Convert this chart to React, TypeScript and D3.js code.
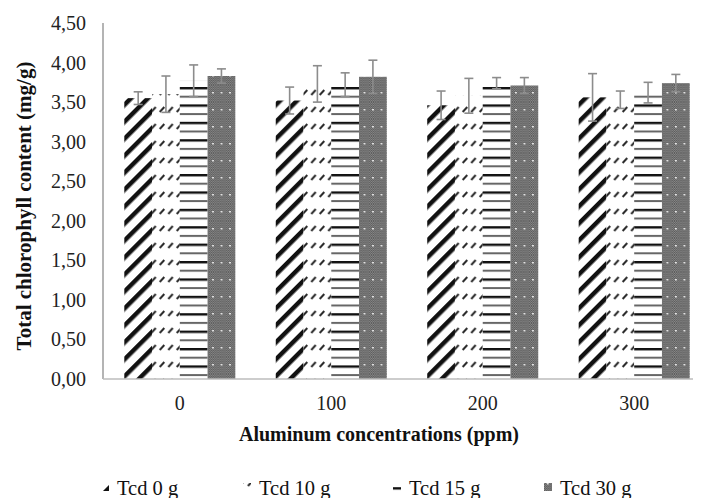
import React from "react";
import * as d3 from "d3";

const categories = ["0", "100", "200", "300"];
const seriesNames = ["Tcd 0 g", "Tcd 10 g", "Tcd 15 g", "Tcd 30 g"];
const tcd0 = [3.55, 3.52, 3.46, 3.56];
const tcd10 = [3.6, 3.73, 3.58, 3.53];
const tcd15 = [3.77, 3.72, 3.74, 3.62];
const tcd30 = [3.83, 3.82, 3.71, 3.74];
const err0 = [0.08, 0.17, 0.18, 0.3];
const err10 = [0.23, 0.23, 0.22, 0.11];
const err15 = [0.2, 0.15, 0.07, 0.13];
const err30 = [0.09, 0.21, 0.1, 0.11];
const yTicks = [0, 0.5, 1, 1.5, 2, 2.5, 3, 3.5, 4, 4.5];

const W = 705;
const H = 498;
const FONT = "'Liberation Serif', 'Times New Roman', serif";

export default function App() {
  const values = [tcd0, tcd10, tcd15, tcd30];
  const errors = [err0, err10, err15, err30];
  const patterns = ["p0", "p10", "p15", "p30"];

  const x0 = d3
    .scaleBand<string>()
    .domain(categories)
    .range([104, 710])
    .paddingInner(0.267)
    .paddingOuter(0.134);
  const x1 = d3
    .scaleBand<string>()
    .domain(seriesNames)
    .range([0, x0.bandwidth()])
    .padding(0);
  const y = d3.scaleLinear().domain([0, 4.5]).range([379, 23]);
  const fmt = (v: number) => d3.format(".2f")(v).replace(".", ",");

  const legendX = [101, 243, 393, 544];

  return (
    <svg
      width={W}
      height={H}
      style={{ position: "absolute", left: 0, top: 0, background: "#fff" }}
      fontFamily={FONT}
    >
      <defs>
        <pattern
          id="p0"
          patternUnits="userSpaceOnUse"
          width={12}
          height={12}
          patternTransform="rotate(45)"
        >
          <rect x={0} y={0} width={12} height={12} fill="#fff" />
          <rect x={0} y={0} width={4.5} height={12} fill="#111" />
        </pattern>
        <pattern id="p10" patternUnits="userSpaceOnUse" width={8.5} height={17}>
          <rect x={0} y={0} width={8.5} height={17} fill="#fff" />
          <line x1={1.5} y1={10} x2={6} y2={5} stroke="#2a2a2a" strokeWidth={1.9} />
        </pattern>
        <pattern id="p15" patternUnits="userSpaceOnUse" width={10} height={17.4}>
          <rect x={0} y={0} width={10} height={17.4} fill="#fff" />
          <rect x={0} y={0} width={10} height={2.4} fill="#111" />
          <rect x={0} y={8.7} width={10} height={2} fill="#666" />
        </pattern>
        <pattern id="chk" patternUnits="userSpaceOnUse" width={2} height={2}>
          <rect x={0} y={0} width={2} height={2} fill="#8a8a8a" />
          <rect x={0} y={0} width={1} height={1} fill="#5a5a5a" />
          <rect x={1} y={1} width={1} height={1} fill="#5a5a5a" />
        </pattern>
        <pattern id="p30" patternUnits="userSpaceOnUse" width={8.5} height={17}>
          <rect x={0} y={0} width={8.5} height={17} fill="url(#chk)" />
          <rect x={3} y={7} width={1.5} height={1.5} fill="#fff" />
        </pattern>
      </defs>

      {/* y axis tick labels */}
      {yTicks.map((t) => (
        <text
          key={t}
          x={86}
          y={y(t)}
          dy="0.35em"
          textAnchor="end"
          fontSize={20}
          fill="#222"
        >
          {fmt(t)}
        </text>
      ))}

      {/* bars */}
      {categories.map((c, ci) => (
        <g key={c} transform={`translate(${x0(c)},0)`}>
          {seriesNames.map((s, si) => {
            const v = values[si][ci];
            return (
              <rect
                key={s}
                x={x1(s)}
                y={y(v)}
                width={x1.bandwidth()}
                height={y(0) - y(v)}
                fill={`url(#${patterns[si]})`}
              />
            );
          })}
        </g>
      ))}

      {/* error bars */}
      {categories.map((c, ci) => (
        <g key={"e" + c} transform={`translate(${x0(c)},0)`}>
          {seriesNames.map((s, si) => {
            const v = values[si][ci];
            const e = errors[si][ci];
            const cx = (x1(s) as number) + x1.bandwidth() / 2;
            return (
              <g key={s} stroke="#8c8c8c" strokeWidth={1.6}>
                <line x1={cx} x2={cx} y1={y(v + e)} y2={y(v - e)} />
                <line x1={cx - 4.5} x2={cx + 4.5} y1={y(v + e)} y2={y(v + e)} />
                <line x1={cx - 4.5} x2={cx + 4.5} y1={y(v - e)} y2={y(v - e)} />
              </g>
            );
          })}
        </g>
      ))}

      {/* axes lines */}
      <line x1={103} x2={103} y1={23} y2={379} stroke="#8c8c8c" strokeWidth={1.3} />
      <line x1={103} x2={693} y1={379} y2={379} stroke="#bdbdbd" strokeWidth={1.3} />

      {/* x tick labels */}
      {categories.map((c) => (
        <text
          key={"xl" + c}
          x={(x0(c) as number) + x0.bandwidth() / 2}
          y={410}
          textAnchor="middle"
          fontSize={20}
          fill="#222"
        >
          {c}
        </text>
      ))}

      {/* axis titles */}
      <text
        x={379}
        y={441}
        textAnchor="middle"
        fontSize={20}
        fontWeight="bold"
        fill="#111"
      >
        Aluminum concentrations (ppm)
      </text>
      <text
        transform={`translate(31,206) rotate(-90)`}
        textAnchor="middle"
        fontSize={21}
        fontWeight="bold"
        fill="#111"
      >
        Total chlorophyll content (mg/g)
      </text>

      {/* legend */}
      {seriesNames.map((s, si) => (
        <g key={"lg" + s}>
          <rect
            x={legendX[si]}
            y={483}
            width={8}
            height={8}
            fill={`url(#${patterns[si]})`}
          />
          <text x={legendX[si] + 16} y={495} fontSize={20.5} fill="#111">
            {s}
          </text>
        </g>
      ))}
    </svg>
  );
}
